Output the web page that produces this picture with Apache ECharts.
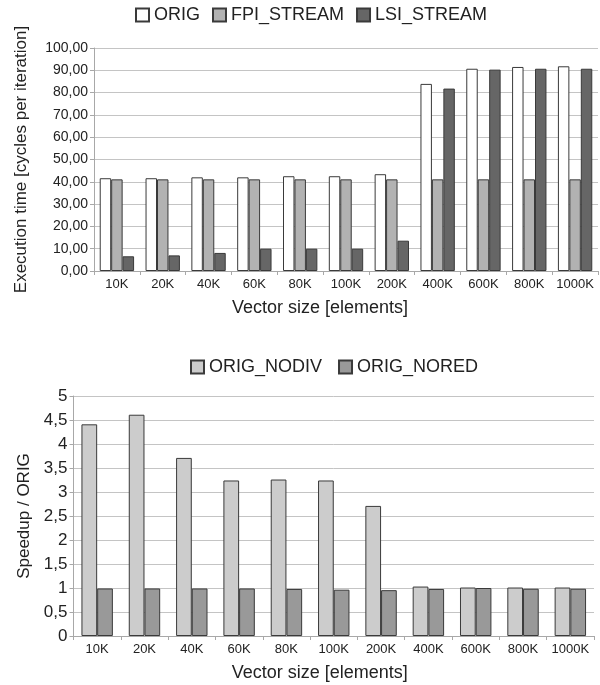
<!DOCTYPE html>
<html>
<head>
<meta charset="utf-8">
<script src="https://cdn.jsdelivr.net/npm/echarts@6/dist/echarts.min.js"></script>
<style>
html,body{margin:0;padding:0;background:#fff;}
#c{width:600px;height:685px;}
</style>
</head>
<body>
<div id="c"></div>
<script>
var categories = ['10K','20K','40K','60K','80K','100K','200K','400K','600K','800K','1000K'];
var origVals = [41.6, 41.6, 42.0, 42.0, 42.5, 42.5, 43.4, 83.9, 90.7, 91.5, 91.8];
var fpiVals  = [41.1, 41.1, 41.1, 41.1, 41.1, 41.1, 41.1, 41.1, 41.1, 41.1, 41.1];
var lsiVals  = [6.6, 7.0, 8.1, 10.0, 10.0, 10.0, 13.6, 81.8, 90.3, 90.7, 90.7];
var nodivVals = [4.41, 4.61, 3.71, 3.24, 3.26, 3.24, 2.71, 1.03, 1.01, 1.01, 1.01];
var noredVals = [0.99, 0.99, 0.99, 0.99, 0.98, 0.965, 0.955, 0.98, 1.0, 0.985, 0.985];

var FONT = '"Liberation Sans", Arial, sans-serif';
var txt = '#222';
var gridColor = '#c4c4c4';
var axisColor = '#a8a8a8';
var border = '#3a3a3a';

function catAxis(gi, namePad) {
  return {
    type: 'category', gridIndex: gi, data: categories,
    axisLine: {lineStyle: {color: axisColor}},
    axisTick: {show: true, length: 4, interval: 0, lineStyle: {color: axisColor}},
    axisLabel: {color: txt, fontFamily: FONT, fontSize: 13, margin: 7, interval: 0},
    name: 'Vector size [elements]', nameLocation: 'middle', nameGap: 28,
    nameTextStyle: {color: txt, fontFamily: FONT, fontSize: 18, padding: [0, namePad, 0, 0]}
  };
}

var chart = echarts.init(document.getElementById('c'), null, {renderer: 'canvas'});
chart.setOption({
  animation: false,
  backgroundColor: '#fff',
  textStyle: {fontFamily: FONT},
  legend: [
    {
      data: ['ORIG', 'FPI_STREAM', 'LSI_STREAM'],
      icon: 'rect', padding: 0,
      left: 135, top: 6, itemWidth: 13, itemHeight: 13, itemGap: 12,
      textStyle: {color: txt, fontFamily: FONT, fontSize: 18}
    },
    {
      data: ['ORIG_NODIV', 'ORIG_NORED'],
      icon: 'rect', padding: 0,
      left: 190, top: 358, itemWidth: 13, itemHeight: 13, itemGap: 16,
      textStyle: {color: txt, fontFamily: FONT, fontSize: 18}
    }
  ],
  grid: [
    {left: 94, right: 2, top: 48, bottom: 414, containLabel: false},
    {left: 73.5, right: 6, top: 396, bottom: 49, containLabel: false}
  ],
  xAxis: [catAxis(0, 52), catAxis(1, 28)],
  yAxis: [
    {
      type: 'value', gridIndex: 0, min: 0, max: 100, interval: 10,
      axisLine: {show: true, lineStyle: {color: axisColor}},
      axisTick: {show: true, length: 4, lineStyle: {color: axisColor}},
      splitLine: {lineStyle: {color: gridColor}},
      axisLabel: {color: txt, fontFamily: FONT, fontSize: 14, margin: 6,
        formatter: function (v) { return v.toFixed(2).replace('.', ','); }},
      name: 'Execution time [cycles per iteration]', nameLocation: 'middle', nameGap: 64,
      nameTextStyle: {color: txt, fontFamily: FONT, fontSize: 17}
    },
    {
      type: 'value', gridIndex: 1, min: 0, max: 5, interval: 0.5,
      axisLine: {show: true, lineStyle: {color: axisColor}},
      axisTick: {show: true, length: 4, lineStyle: {color: axisColor}},
      splitLine: {lineStyle: {color: gridColor}},
      axisLabel: {color: txt, fontFamily: FONT, fontSize: 17, margin: 6,
        formatter: function (v) { return String(v).replace('.', ','); }},
      name: 'Speedup / ORIG', nameLocation: 'middle', nameGap: 40,
      nameTextStyle: {color: txt, fontFamily: FONT, fontSize: 17}
    }
  ],
  series: [
    {name: 'ORIG', type: 'bar', xAxisIndex: 0, yAxisIndex: 0, data: origVals,
      barGap: '0%', barCategoryGap: '25%',
      itemStyle: {color: '#ffffff', borderColor: border, borderWidth: 1}},
    {name: 'FPI_STREAM', type: 'bar', xAxisIndex: 0, yAxisIndex: 0, data: fpiVals,
      barGap: '0%', barCategoryGap: '25%',
      itemStyle: {color: '#b2b2b2', borderColor: border, borderWidth: 1}},
    {name: 'LSI_STREAM', type: 'bar', xAxisIndex: 0, yAxisIndex: 0, data: lsiVals,
      barGap: '0%', barCategoryGap: '25%',
      itemStyle: {color: '#666666', borderColor: border, borderWidth: 1}},
    {name: 'ORIG_NODIV', type: 'bar', xAxisIndex: 1, yAxisIndex: 1, data: nodivVals,
      barGap: '0%', barCategoryGap: '33.6%',
      itemStyle: {color: '#cccccc', borderColor: border, borderWidth: 1}},
    {name: 'ORIG_NORED', type: 'bar', xAxisIndex: 1, yAxisIndex: 1, data: noredVals,
      barGap: '0%', barCategoryGap: '33.6%',
      itemStyle: {color: '#999999', borderColor: border, borderWidth: 1}}
  ]
});
</script>
</body>
</html>
